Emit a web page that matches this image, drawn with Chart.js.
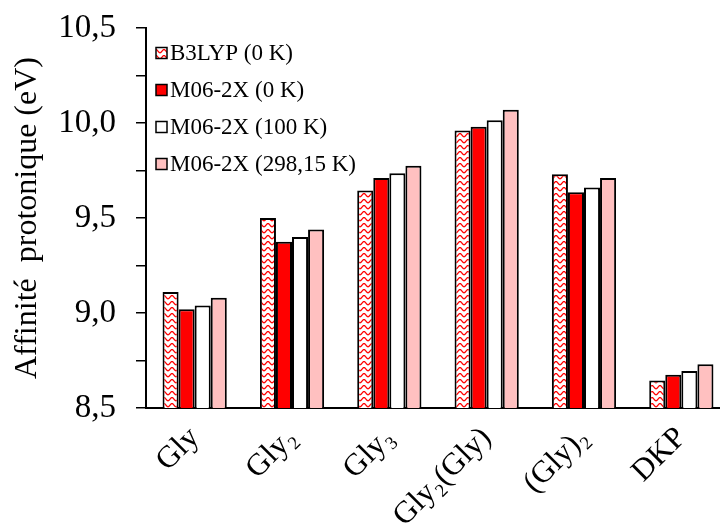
<!DOCTYPE html>
<html>
<head>
<meta charset="utf-8">
<script src="https://cdn.jsdelivr.net/npm/chart.js@4.4.1/dist/chart.umd.min.js"></script>
<style>
  html, body { margin: 0; padding: 0; background: #fff; overflow: hidden; }
  #wrap { width: 740px; height: 525px; }
</style>
</head>
<body>
<div id="wrap"><canvas id="chart" width="740" height="525"></canvas></div>
<script>
// data
const categories = ['Gly', 'Gly\u2082', 'Gly\u2083', 'Gly\u2082(Gly)', '(Gly)\u2082', 'DKP'];
const seriesNames = ['B3LYP (0 K)', 'M06-2X (0 K)', 'M06-2X (100 K)', 'M06-2X (298,15 K)'];
const b3lyp0K = [9.11, 9.50, 9.645, 9.96, 9.73, 8.645];
const m062x0K = [9.02, 9.375, 9.71, 9.98, 9.635, 8.675];
const m062x100K = [9.04, 9.40, 9.735, 10.015, 9.66, 8.695];
const m062x298K = [9.08, 9.44, 9.775, 10.07, 9.71, 8.73];
const yTicks = [8.5, 9.0, 9.5, 10.0, 10.5];

const serif = "'Liberation Serif', 'Times New Roman', serif";

// red wavy hatch for the B3LYP bars
function makeWave() {
  const c = document.createElement('canvas');
  c.width = 8; c.height = 6;
  const g = c.getContext('2d');
  g.fillStyle = '#fff';
  g.fillRect(0, 0, 8, 6);
  g.strokeStyle = '#ff0000';
  g.lineWidth = 1.3;
  g.beginPath();
  for (let x = 0; x <= 8; x += 0.5) {
    const y = 3.2 + 1.6 * Math.cos(2 * Math.PI * x / 8);
    if (x === 0) g.moveTo(x, y); else g.lineTo(x, y);
  }
  g.stroke();
  return g.createPattern(c, 'repeat');
}
const wave = makeWave();
const fills = [wave, '#ff0000', '#ffffff', '#ffc0c0'];
const values = [b3lyp0K, m062x0K, m062x100K, m062x298K];

// legend drawn in the top-left of the plot, stacked
const stackedLegend = {
  id: 'stackedLegend',
  afterDraw(chart) {
    const ctx = chart.ctx;
    ctx.save();
    ctx.font = '23px ' + serif;
    ctx.textBaseline = 'middle';
    chart.data.datasets.forEach((ds, i) => {
      const y = 53 + i * 37;
      ctx.fillStyle = ds.backgroundColor;
      ctx.fillRect(156, y - 5.5, 11, 11);
      ctx.strokeStyle = '#000';
      ctx.lineWidth = 1.5;
      ctx.strokeRect(156, y - 5.5, 11, 11);
      ctx.fillStyle = '#000';
      ctx.fillText(ds.label, 170, y + 1);
    });
    ctx.restore();
  }
};

new Chart(document.getElementById('chart'), {
  type: 'bar',
  data: {
    labels: categories,
    datasets: seriesNames.map((name, i) => ({
      label: name,
      data: values[i],
      backgroundColor: fills[i],
      borderColor: '#000',
      borderWidth: 2,
      borderSkipped: 'bottom',
      barPercentage: 1.0,
      categoryPercentage: 0.66
    }))
  },
  options: {
    responsive: false,
    animation: false,
    layout: { padding: { top: 28, right: 10, left: 0, bottom: 0 } },
    plugins: {
      legend: { display: false },
      tooltip: { enabled: false }
    },
    scales: {
      x: {
        grid: { display: false, drawTicks: false },
        border: { color: '#000', width: 2 },
        ticks: {
          color: '#000',
          font: { family: serif, size: 31 },
          minRotation: 45,
          maxRotation: 45,
          padding: 12,
          autoSkip: false
        },
        afterFit(s) { s.height = 117; }
      },
      y: {
        min: 8.5,
        max: 10.5,
        grid: { drawOnChartArea: false, tickLength: 10, color: '#000', lineWidth: 1.5 },
        border: { color: '#000', width: 2 },
        ticks: {
          stepSize: 0.25,
          color: '#000',
          padding: 20,
          font: { family: serif, size: 33 },
          callback: v => yTicks.some(t => Math.abs(t - v) < 1e-6) ? v.toFixed(1).replace('.', ',') : ''
        },
        title: {
          display: true,
          text: 'Affinité  protonique (eV)',
          color: '#000',
          font: { family: serif, size: 32 },
          padding: { top: 8, bottom: 0 }
        },
        afterFit(s) { s.width = 146; s.paddingTop = 0; s.paddingBottom = 0; }
      }
    }
  },
  plugins: [stackedLegend]
});
</script>
</body>
</html>
